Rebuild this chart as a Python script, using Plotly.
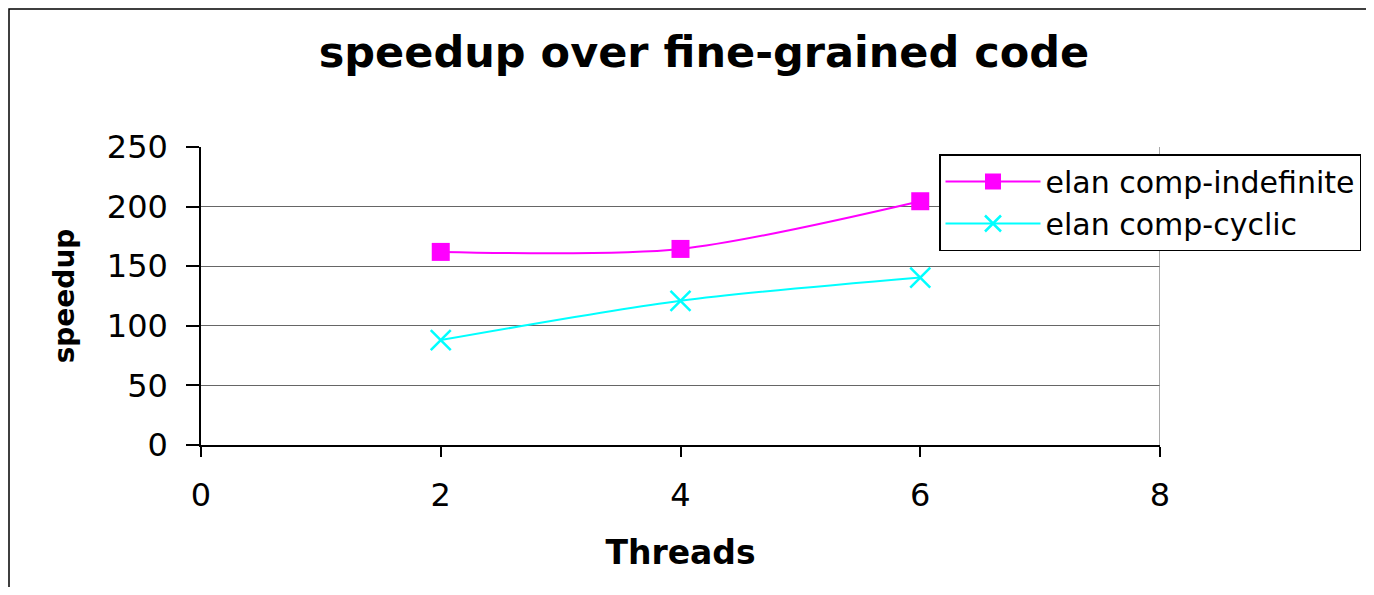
import plotly.graph_objects as go

threads = [2, 4, 6]
indefinite = [162, 164.5, 204.5]
cyclic = [88, 121, 140.5]
series_names = ["elan comp-indefinite", "elan comp-cyclic"]
y_ticks = [0, 50, 100, 150, 200, 250]
x_ticks = [0, 2, 4, 6, 8]

FONT = "DejaVu Sans"
W, H = 1358, 579

fig = go.Figure()
fig.add_trace(go.Scatter(
    x=threads, y=indefinite, name=series_names[0], mode="lines+markers",
    line=dict(color="#FF00FF", width=2, shape="spline", smoothing=0.8),
    marker=dict(symbol="square", size=18, color="#FF00FF"),
))
fig.add_trace(go.Scatter(
    x=threads, y=cyclic, name=series_names[1], mode="lines+markers",
    line=dict(color="#00FFFF", width=2, shape="spline", smoothing=0.8),
    marker=dict(symbol="x-thin-open", size=20, color="#00FFFF",
                line=dict(color="#00FFFF", width=2.5)),
))

L, T, R, B = 193, 139, W - 1152, H - 437
pw, ph = 1152 - L, 437 - T

fig.update_layout(
    width=W, height=H,
    margin=dict(l=L, r=R, t=T, b=B, autoexpand=False),
    paper_bgcolor="white", plot_bgcolor="white",
    title=dict(text="<b>speedup over fine-grained code</b>",
               font=dict(family=FONT, size=43, color="black"),
               x=(696) / W, xref="container", xanchor="center",
               y=1 - 44 / H, yref="container", yanchor="middle"),
    xaxis=dict(range=[0, 8], tickvals=x_ticks, showgrid=False, zeroline=False,
               showline=True, linecolor="black", linewidth=1.5,
               ticks="outside", ticklen=10, tickcolor="black", tickwidth=1.5,
               ticklabelstandoff=11,
               tickfont=dict(family=FONT, size=32, color="black"),
               title=dict(text="<b>Threads</b>", standoff=28,
                          font=dict(family=FONT, size=33, color="black"))),
    yaxis=dict(range=[0, 250], tickvals=y_ticks, showgrid=True,
               gridcolor="#666666", gridwidth=1.2, zeroline=False,
               showline=True, linecolor="black", linewidth=1.5,
               ticks="outside", ticklen=13, tickcolor="black", tickwidth=1.5,
               ticklabelstandoff=12,
               tickfont=dict(family=FONT, size=32, color="black"),
               title=dict(text="<b>speedup</b>", standoff=24,
                          font=dict(family=FONT, size=28, color="black"))),
    legend=dict(x=(931 - L) / pw, y=(437 - 146) / ph, xanchor="left", yanchor="top",
                xref="paper", yref="paper",
                bgcolor="white", bordercolor="black", borderwidth=1.5,
                font=dict(family=FONT, size=30, color="black"),
                itemwidth=95, tracegroupgap=0),
    showlegend=True,
)

# right border of plot area (gray)
fig.add_shape(type="line", xref="x", yref="y", x0=8, x1=8, y0=0, y1=250,
              line=dict(color="#8c8c8c", width=1.5))
# outer chart border
fig.add_shape(type="rect", xref="paper", yref="paper",
              x0=(1 - L) / pw, x1=(W + 20 - L) / pw,
              y0=(437 - H - 20) / ph, y1=(437 - 1) / ph,
              line=dict(color="black", width=1.5), layer="below")

fig.write_html("out.html")
